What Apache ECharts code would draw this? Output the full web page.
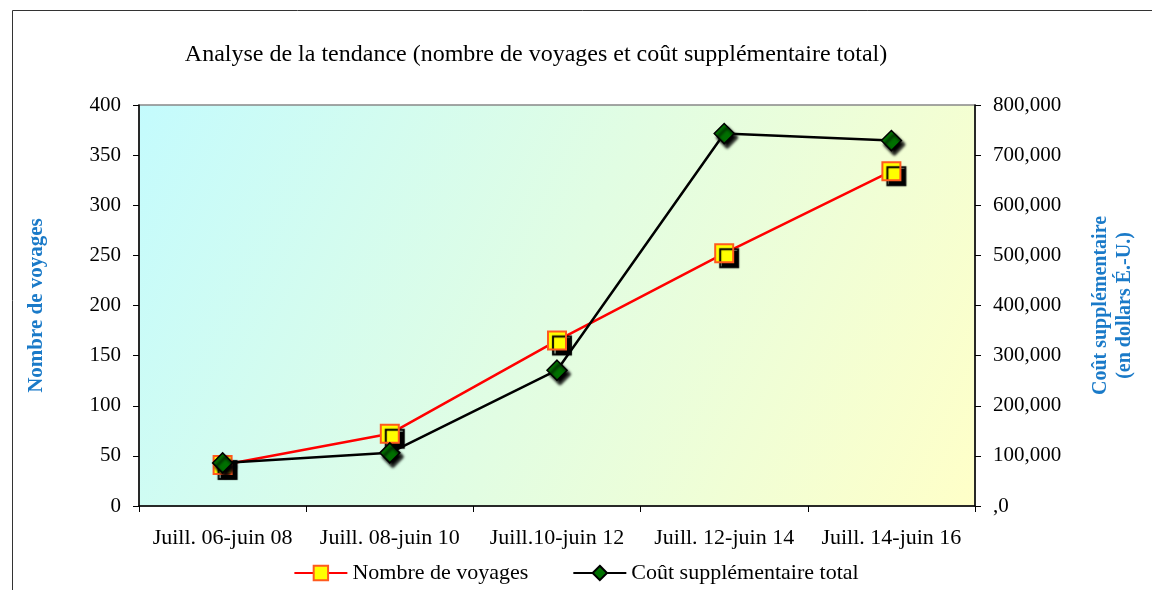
<!DOCTYPE html>
<html>
<head>
<meta charset="utf-8">
<script src="https://cdn.jsdelivr.net/npm/echarts@6/dist/echarts.min.js"></script>
<style>html,body{margin:0;padding:0;background:#fff}#c{width:1152px;height:590px}</style>
</head>
<body>
<div id="c"></div>
<script>
var categories = ['Juill. 06-juin 08', 'Juill. 08-juin 10', 'Juill.10-juin 12', 'Juill. 12-juin 14', 'Juill. 14-juin 16'];
var voyages = [41, 72, 165, 252, 334];
var cout = [86000, 106000, 271000, 743000, 729000];
var seriesNames = ['Nombre de voyages', 'Coût supplémentaire total'];
var titleText = 'Analyse de la tendance (nombre de voyages et coût supplémentaire total)';
var leftName = 'Nombre de voyages';
var rightName = 'Coût supplémentaire\n(en dollars É.-U.)';

var FONT = '"Liberation Serif", "DejaVu Serif", serif';
var chart = echarts.init(document.getElementById('c'));
chart.setOption({
  animation: false,
  textStyle: { fontFamily: FONT },
  graphic: [{
    type: 'rect', silent: true, z: -1,
    shape: { x: 12.5, y: 10.5, width: 1200, height: 700 },
    style: { fill: 'none', stroke: '#333', lineWidth: 1 }
  }],
  title: {
    text: titleText, left: 531, top: 38, textAlign: 'center',
    textStyle: { fontFamily: FONT, fontSize: 24, fontWeight: 'normal', color: '#000' }
  },
  legend: {
    bottom: 1, left: 'center', itemWidth: 53, itemHeight: 18, itemGap: 44,
    textStyle: { fontFamily: FONT, fontSize: 22, color: '#000' },
    data: seriesNames
  },
  grid: {
    left: 139, right: 177, top: 105, bottom: 84,
    outerBoundsMode: 'none', containLabel: false,
    show: true, borderColor: '#888', borderWidth: 1.5,
    backgroundColor: {
      type: 'linear', x: 0, y: 0, x2: 1, y2: 1,
      colorStops: [{ offset: 0, color: '#c4fbfd' }, { offset: 1, color: '#ffffc8' }]
    }
  },
  xAxis: {
    type: 'category', data: categories, boundaryGap: true,
    axisLine: { lineStyle: { color: '#000', width: 1.5 } },
    axisTick: { show: true, interval: 0, length: 6, lineStyle: { color: '#000' } },
    axisLabel: { fontFamily: FONT, fontSize: 22, color: '#000', margin: 21, interval: 0 },
    splitLine: { show: false }
  },
  yAxis: [{
    type: 'value', min: 0, max: 400, interval: 50, position: 'left',
    name: leftName, nameLocation: 'middle', nameGap: 92, nameRotate: 90,
    nameTextStyle: { fontFamily: FONT, fontSize: 21, fontWeight: 'bold', color: '#1a7ac8' },
    axisLine: { show: true, lineStyle: { color: '#000', width: 1.5 } },
    axisTick: { show: true, length: 6, lineStyle: { color: '#000' } },
    axisLabel: { fontFamily: FONT, fontSize: 21, color: '#000', margin: 18 },
    splitLine: { show: false }
  }, {
    type: 'value', min: 0, max: 800000, interval: 100000, position: 'right',
    name: rightName, nameLocation: 'middle', nameGap: 114, nameRotate: 90,
    nameTextStyle: { fontFamily: FONT, fontSize: 20, fontWeight: 'bold', color: '#1a7ac8', lineHeight: 24, align: 'center' },
    axisLine: { show: true, lineStyle: { color: '#000', width: 1.5 } },
    axisTick: { show: true, length: 6, lineStyle: { color: '#000' } },
    axisLabel: {
      fontFamily: FONT, fontSize: 21, color: '#000', margin: 18,
      formatter: function (v) { return v === 0 ? ',0' : v.toLocaleString('en-US'); }
    },
    splitLine: { show: false }
  }],
  series: [{
    name: seriesNames[0], type: 'line', yAxisIndex: 0, data: voyages,
    symbol: 'rect', symbolSize: 18,
    lineStyle: { color: '#ff0000', width: 2.5 },
    itemStyle: { color: '#ffff00', borderColor: '#ff5a1e', borderWidth: 2,
      shadowColor: '#000', shadowOffsetX: 5, shadowOffsetY: 5, shadowBlur: 1 },
    z: 3
  }, {
    name: seriesNames[1], type: 'line', yAxisIndex: 1, data: cout,
    symbol: 'diamond', symbolSize: 20,
    lineStyle: { color: '#000', width: 2.5 },
    itemStyle: { color: '#007000', borderColor: '#000', borderWidth: 1.5,
      shadowColor: '#000', shadowOffsetX: 3, shadowOffsetY: 4, shadowBlur: 3 },
    z: 4
  }]
});
</script>
</body>
</html>
